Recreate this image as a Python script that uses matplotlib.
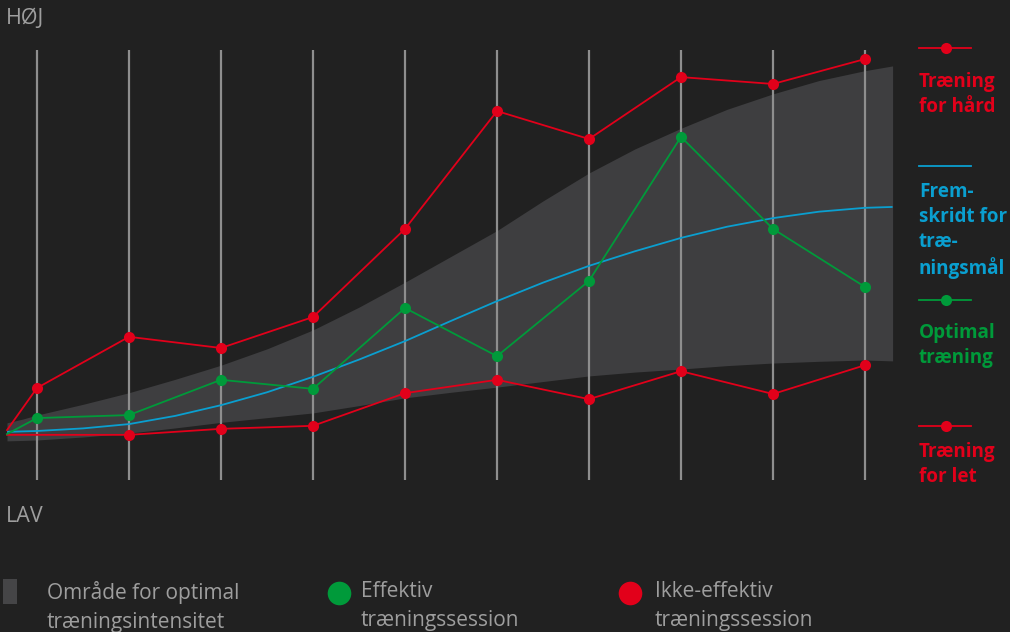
import matplotlib
matplotlib.use("Agg")
import matplotlib.pyplot as plt

# ---------------- data (intensity 0 = LAV, 100 = HØJ) ----------------
sessions = [0, 1, 2, 3, 4, 5, 6, 7, 8, 9]
x_start, x_end = -0.326, 9.3

band_x = [x_start, -0.15, 0, 0.5, 1, 1.5, 2, 2.5, 3, 3.5, 4, 4.5, 5, 5.5, 6, 6.5,
          7, 7.5, 8, 8.5, 9, x_end]
band_upper = [13.3, 14.2, 15.1, 17.6, 20.3, 23.4, 26.7, 30.5, 34.9, 40.2, 46.0,
              52.0, 58.0, 64.9, 71.4, 77.0, 81.8, 86.2, 89.8, 92.9, 95.2, 96.3]
band_lower = [9.1, 9.2, 9.3, 10.0, 10.9, 12.1, 13.4, 14.5, 15.6, 17.3, 19.1,
              20.4, 21.6, 22.9, 24.2, 25.1, 25.8, 26.6, 27.2, 27.6, 27.9, 27.7]

progress_x = [x_start, 0, 0.5, 1, 1.5, 2, 2.5, 3, 3.5, 4, 4.5, 5, 5.5, 6, 6.5,
              7, 7.5, 8, 8.5, 9, x_end]
progress = [11.2, 11.4, 12.0, 13.0, 14.9, 17.4, 20.4, 24.0, 28.0, 32.3, 37.0,
            41.6, 45.9, 49.8, 53.2, 56.3, 58.9, 60.9, 62.4, 63.3, 63.5]

hard_start = 11.6
hard = [21.4, 33.3, 30.7, 37.9, 58.4, 85.8, 79.3, 93.7, 92.1, 97.9]

optimal_start = 10.7
optimal = [14.4, 15.1, 23.3, 21.2, 40.0, 28.8, 46.3, 79.8, 58.4, 44.9]

easy_start = 10.5
easy_sessions = [1, 2, 3, 4, 5, 6, 7, 8, 9]
easy = [10.5, 11.9, 12.6, 20.2, 23.3, 18.8, 25.3, 20.0, 26.7]

right_labels = ["Træning\nfor hård", "Frem-\nskridt for\ntræ-\nningsmål",
                "Optimal\ntræning", "Træning\nfor let"]
bottom_labels = ["Område for optimal\ntræningsintensitet",
                 "Effektiv\ntræningssession",
                 "Ikke-effektiv\ntræningssession"]
axis_top_label = "HØJ"
axis_bottom_label = "LAV"

# ---------------- style ----------------
BG = "#212121"
BAND = "#3e3e40"
RED = "#e2001a"
GREEN = "#009a3a"
BLUE = "#0a9fd0"
GRID = "#8e8e8e"
TXT = "#9e9e9e"

W, H = 1010, 632
fig = plt.figure(figsize=(W / 100, H / 100), dpi=100)
fig.patch.set_facecolor(BG)
ax = fig.add_axes([0, 0, 1, 1])
ax.set_facecolor(BG)
ax.axis("off")

# pixel mapping helpers (layout only)
X0, DX = 37, 92          # first gridline pixel, spacing
Y0, DY = 480, 4.3        # pixel of value 0, pixels per unit
ax.set_xlim(-X0 / DX, (W - X0) / DX)
ax.set_ylim((Y0 - H) / DY, Y0 / DY)

def px(xp):
    return (xp - X0) / DX

def py(yp):
    return (Y0 - yp) / DY

# band
ax.fill_between(band_x, band_lower, band_upper, color=BAND, lw=0, zorder=1)

# grid lines
ax.vlines(sessions, 0, 100, color=GRID, lw=1.6, zorder=2)

# progress line
ax.plot(progress_x, progress, color=BLUE, lw=1.3, zorder=3, solid_capstyle="butt")

ms = 8
# easy
ax.plot([x_start] + easy_sessions, [easy_start] + easy, color=RED, lw=1.3, zorder=4)
ax.plot(easy_sessions, easy, "o", color=RED, ms=ms, mew=0, zorder=6)
# optimal
ax.plot([x_start] + sessions, [optimal_start] + optimal, color=GREEN, lw=1.3, zorder=4)
ax.plot(sessions, optimal, "o", color=GREEN, ms=ms, mew=0, zorder=6)
# hard
ax.plot([x_start] + sessions, [hard_start] + hard, color=RED, lw=1.3, zorder=5)
ax.plot(sessions, hard, "o", color=RED, ms=ms, mew=0, zorder=6)

# axis end labels
fnt = "Open Sans"
ax.text(px(6), py(18), axis_top_label, color=TXT, fontsize=15.5, family=fnt,
        ha="left", va="center")
ax.text(px(6), py(517), axis_bottom_label, color=TXT, fontsize=15.5, family=fnt,
        ha="left", va="center")

# right legend
right_colors = [RED, BLUE, GREEN, RED]
right_line_y = [48, 166, 300, 426]
right_marker = [True, False, True, True]
right_text_top = [72, 182, 323, 442]
for lab, c, ly, mk, ty in zip(right_labels, right_colors, right_line_y,
                              right_marker, right_text_top):
    ax.plot([px(919), px(971)], [py(ly), py(ly)], color=c, lw=1.3, clip_on=False)
    if mk:
        ax.plot([px(946)], [py(ly)], "o", color=c, ms=ms, mew=0, clip_on=False)
    ax.text(px(919), py(ty), lab, color=c, fontsize=13.6, fontweight="bold",
            family=fnt, ha="left", va="top", linespacing=1.33)

# bottom legend
ax.add_patch(plt.Rectangle((px(3), py(604)), px(17) - px(3), py(579) - py(604),
                           color="#454547", lw=0, clip_on=False))
ax.plot([px(339)], [py(593)], "o", color=GREEN, ms=17, mew=0, clip_on=False)
ax.plot([px(630)], [py(593)], "o", color=RED, ms=17, mew=0, clip_on=False)
for lab, xl in zip(bottom_labels, [47, 361, 655]):
    ax.text(px(xl), py(581), lab, color=TXT, fontsize=15, family=fnt,
            ha="left", va="top", linespacing=1.5)

fig.savefig("out.png", dpi=100, facecolor=BG)
